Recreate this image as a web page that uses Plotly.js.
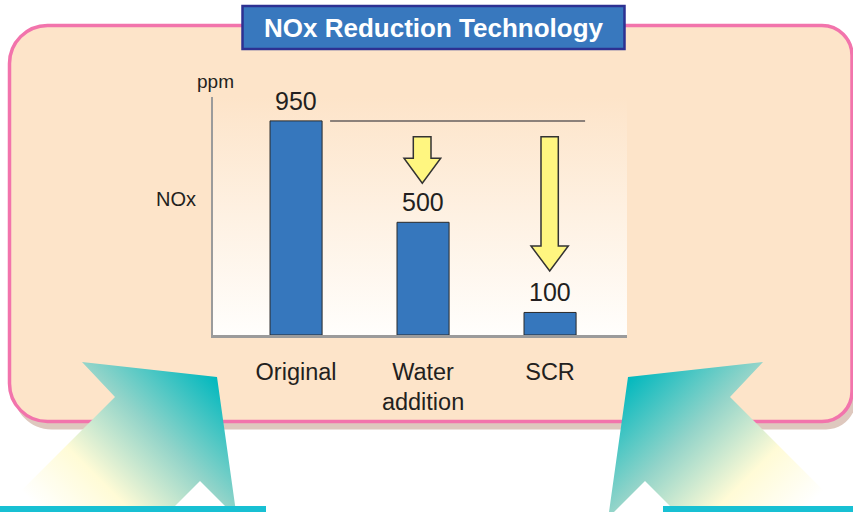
<!DOCTYPE html>
<html>
<head>
<meta charset="utf-8">
<script src="https://cdn.plot.ly/plotly-3.0.1.min.js"></script>
<style>html,body{margin:0;padding:0;background:#fff;}#chart{width:853px;height:512px;}</style>
</head>
<body>
<div id="chart"></div>
<script>
// ---- data ----
const categories = ["Original", "Water<br>addition", "SCR"];
const noxValues = [950, 500, 100];
const valueLabels = ["950", "500", "100"];
const chartTitle = "NOx Reduction Technology";
const unitLabel = "ppm";
const axisLabel = "NOx";

// ---- geometry helpers (pixel -> paper) ----
const W = 853, H = 512, L = 213, R = 627, T = 97, B = 335;
const px = X => (X - L) / (R - L);
const py = Y => (B - Y) / (B - T);
const P = (X, Y) => px(X).toFixed(5) + "," + py(Y).toFixed(5);
const xr = [-0.654, 2.606];
const yMax = 1056;

function roundRect(x0, y0, x1, y1, rtl, rtr, rbr, rbl) {
  const k = 0.5523;
  return "M" + P(x0 + rtl, y0) +
    " L" + P(x1 - rtr, y0) +
    " C" + P(x1 - rtr + k * rtr, y0) + " " + P(x1, y0 + rtr - k * rtr) + " " + P(x1, y0 + rtr) +
    " L" + P(x1, y1 - rbr) +
    " C" + P(x1, y1 - rbr + k * rbr) + " " + P(x1 - rbr + k * rbr, y1) + " " + P(x1 - rbr, y1) +
    " L" + P(x0 + rbl, y1) +
    " C" + P(x0 + rbl - k * rbl, y1) + " " + P(x0, y1 - rbl + k * rbl) + " " + P(x0, y1 - rbl) +
    " L" + P(x0, y0 + rtl) +
    " C" + P(x0, y0 + rtl - k * rtl) + " " + P(x0 + rtl - k * rtl, y0) + " " + P(x0 + rtl, y0) + " Z";
}
function poly(pts) {
  return "M" + pts.map(p => P(p[0], p[1])).join(" L") + " Z";
}
function downArrow(cx, sl, sr, top, headY, hl, hr, tip) {
  return poly([[sl, top], [sr, top], [sr, headY], [hr, headY], [cx, tip], [hl, headY], [sl, headY]]);
}

// ---- teal arrows (decoration) as svg image ----
const leftPts = [[82,362],[217,377],[236,512],[231,512],[200,481],[169,512],[0,512],[115,397]];
const rightPts = leftPts.map(p => [845 - p[0], p[1]]);
const ptsStr = a => a.map(p => p[0] + "," + p[1]).join(" ");
const svg = '<svg xmlns="http://www.w3.org/2000/svg" width="853" height="512" viewBox="0 0 853 512" preserveAspectRatio="none">' +
  '<defs>' +
  '<linearGradient id="gl" gradientUnits="userSpaceOnUse" x1="0" y1="470" x2="155" y2="315">' +
  '<stop offset="0" stop-color="#ffffff"/><stop offset="0.29" stop-color="#fffbd6"/>' +
  '<stop offset="0.62" stop-color="#93d4c9"/><stop offset="1" stop-color="#00b8be"/></linearGradient>' +
  '<linearGradient id="gr" gradientUnits="userSpaceOnUse" x1="845" y1="470" x2="690" y2="315">' +
  '<stop offset="0" stop-color="#ffffff"/><stop offset="0.29" stop-color="#fffbd6"/>' +
  '<stop offset="0.62" stop-color="#93d4c9"/><stop offset="1" stop-color="#00b8be"/></linearGradient>' +
  '</defs>' +
  '<polygon points="' + ptsStr(leftPts) + '" fill="url(#gl)"/>' +
  '<polygon points="' + ptsStr(rightPts) + '" fill="url(#gr)"/>' +
  '<rect x="0" y="506" width="266" height="6" fill="#18c0d3"/>' +
  '<rect x="663" y="506" width="190" height="6" fill="#18c0d3"/>' +
  '</svg>';
const svgSrc = "data:image/svg+xml;charset=utf-8," + encodeURIComponent(svg);

const xIdx = categories.map((c, i) => i);
const FONT = "Liberation Sans, Arial, Helvetica, sans-serif";
const TXT = "#231f20";

const traces = [
  { // plot-area gradient background (main subplot, drawn underneath)
    type: "scatter", mode: "none", xaxis: "x", yaxis: "y",
    x: [xr[0], xr[1], xr[1], xr[0]], y: [0, 0, yMax, yMax],
    fill: "toself",
    fillgradient: { type: "vertical", colorscale: [[0, "#fffefc"], [1, "#fde4c9"]] },
    hoverinfo: "skip", showlegend: false
  },
  { // bars on overlaying subplot so they sit above the background
    type: "bar", xaxis: "x", yaxis: "y2", x: xIdx, y: noxValues, width: 0.41,
    marker: { color: "#3677bd", line: { color: "#2a2a2a", width: 1 } },
    hoverinfo: "skip", showlegend: false
  }
];

const shapes = [
  { type: "path", xref: "paper", yref: "paper", layer: "below",
    path: roundRect(13.5, 33.5, 856, 429.5, 38, 30, 30, 38),
    fillcolor: "#dec8be", line: { width: 0 } },
  { type: "path", xref: "paper", yref: "paper", layer: "below",
    path: roundRect(9.5, 25.5, 852, 421.5, 38, 30, 30, 38),
    fillcolor: "#fde4c9", line: { color: "#f274ac", width: 3.5 } },
  { type: "path", xref: "paper", yref: "paper", layer: "below",
    path: poly([[242.5, 6], [624.5, 6], [624.5, 49], [242.5, 49]]),
    fillcolor: "#3878be", line: { color: "#2d3192", width: 2.5 } },
  { type: "line", xref: "x", yref: "y2", layer: "above",
    x0: 0.268, x1: 2.276, y0: noxValues[0], y1: noxValues[0],
    line: { color: "#8c817a", width: 2 } },
  { type: "path", xref: "paper", yref: "paper", layer: "above",
    path: downArrow(422.3, 413.3, 431, 136.7, 158.3, 404, 440.7, 183.3),
    fillcolor: "#fff680", line: { color: "#333333", width: 1.5 } },
  { type: "path", xref: "paper", yref: "paper", layer: "above",
    path: downArrow(549.7, 541, 558.3, 136.7, 246, 531, 568.3, 271),
    fillcolor: "#fff680", line: { color: "#333333", width: 1.5 } }
];

const annotations = noxValues.map((v, i) => ({
  x: i, y: v, xref: "x", yref: "y2", text: valueLabels[i], showarrow: false,
  yanchor: "bottom", yshift: 4, font: { family: FONT, size: 25, color: TXT }
}));
annotations.push(
  { x: px(434), y: py(28), xref: "paper", yref: "paper", text: "<b>" + chartTitle + "</b>",
    showarrow: false, xanchor: "center", yanchor: "middle",
    font: { family: FONT, size: 26, color: "#ffffff" } },
  { x: px(215.5), y: py(81), xref: "paper", yref: "paper", text: unitLabel, showarrow: false,
    xanchor: "center", yanchor: "middle", font: { family: FONT, size: 19, color: TXT } },
  { x: px(175.5), y: py(199), xref: "paper", yref: "paper", text: axisLabel, showarrow: false,
    xanchor: "center", yanchor: "middle", font: { family: FONT, size: 20, color: TXT } }
);

const layout = {
  width: W, height: H,
  margin: { l: L, r: W - R, t: T, b: H - B, pad: 0 },
  paper_bgcolor: "#ffffff", plot_bgcolor: "rgba(0,0,0,0)",
  showlegend: false, hovermode: false,
  xaxis: {
    type: "linear", range: xr, tickvals: xIdx, ticktext: categories,
    showgrid: false, zeroline: false, showline: true, linecolor: "#9b9b9b", linewidth: 2.5,
    ticks: "", ticklabelstandoff: 14,
    tickfont: { family: FONT, size: 23.5, color: TXT }, fixedrange: true
  },
  yaxis: {
    range: [0, yMax], showgrid: false, zeroline: false, showline: true,
    linecolor: "#9b9b9b", linewidth: 2, ticks: "", showticklabels: false, fixedrange: true
  },
  yaxis2: {
    overlaying: "y", range: [0, yMax], showgrid: false, zeroline: false, showline: false,
    ticks: "", showticklabels: false, fixedrange: true
  },
  shapes: shapes,
  annotations: annotations,
  images: [{
    source: svgSrc, xref: "paper", yref: "paper",
    x: px(0), y: py(0), sizex: W / (R - L), sizey: H / (B - T),
    xanchor: "left", yanchor: "top", sizing: "stretch", layer: "above"
  }]
};

Plotly.newPlot("chart", traces, layout, { displayModeBar: false, staticPlot: true });
</script>
</body>
</html>
